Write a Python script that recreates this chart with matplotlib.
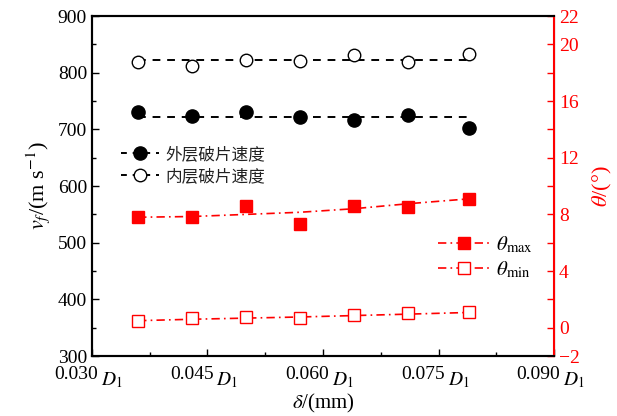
import numpy as np
import matplotlib
matplotlib.use("Agg")
import matplotlib.pyplot as plt
from matplotlib.lines import Line2D
from matplotlib.ticker import MultipleLocator, FixedLocator, NullFormatter
import matplotlib.transforms as mtransforms

plt.rcParams['font.family'] = ['Liberation Serif', 'Noto Sans CJK SC']
plt.rcParams['mathtext.fontset'] = 'stix'

# =============================================================
# DATA
# =============================================================

delta = [0.036, 0.043, 0.050, 0.057, 0.064, 0.071, 0.079]

v_outer = [730, 723, 730, 722, 716, 725, 702]
v_inner = [819, 812, 823, 821, 832, 819, 833]
v_outer_fit = [721, 721]
v_inner_fit = [822, 822]
fit_x = [0.036, 0.079]

theta_max = [7.8, 7.8, 8.6, 7.3, 8.6, 8.55, 9.1]
theta_min = [0.45, 0.7, 0.75, 0.72, 0.88, 1.02, 1.08]
theta_max_fit = [7.8, 7.85, 8.0, 8.15, 8.4, 8.75, 9.1]
theta_min_fit = [0.5, 0.6, 0.68, 0.76, 0.86, 0.96, 1.08]

xticks = [0.030, 0.045, 0.060, 0.075, 0.090]
xtick_labels = ["0.030", "0.045", "0.060", "0.075", "0.090"]
theta_labels = [22, 20, 16, 12, 8, 4, 0, -2]

red = "#ff0000"

# =============================================================
# PLOT
# =============================================================

fig = plt.figure(figsize=(6.17, 4.16), dpi=100)
ax = fig.add_axes([0.149, 0.144, 0.749, 0.8175])

ax.plot(fit_x, v_outer_fit, "--", color="black", lw=1.4, dashes=(4, 3.5))
ax.plot(fit_x, v_inner_fit, "--", color="black", lw=1.4, dashes=(4, 3.5))
ax.plot(delta, v_outer, "o", color="black", ms=9.5, ls="none")
ax.plot(delta, v_inner, "o", mfc="white", mec="black", mew=1.0, ms=9, ls="none")

ax.set_xlim(0.030, 0.090)
ax.set_ylim(300, 900)
ax.xaxis.set_major_locator(FixedLocator(xticks))
ax.xaxis.set_minor_locator(MultipleLocator(0.0075))
ax.yaxis.set_major_locator(MultipleLocator(100))
ax.yaxis.set_minor_locator(MultipleLocator(50))
ax.xaxis.set_major_formatter(NullFormatter())
ax.tick_params(which="both", direction="in", labelsize=14)
ax.tick_params(which="major", length=5, width=1)
ax.tick_params(which="minor", length=3, width=1)
ax.tick_params(axis="x", which="both", top=False)
ax.set_ylabel(r"$v_f$/(m s$^{-1}$)", fontsize=16, labelpad=4)

# x tick labels with D1 suffix
trans = mtransforms.blended_transform_factory(ax.transData, ax.transAxes)
for xv, lab in zip(xticks, xtick_labels):
    t1 = mtransforms.offset_copy(trans, fig=fig, x=4.5, y=-7, units="points")
    ax.text(xv, 0, lab, transform=t1, ha="right", va="top", fontsize=14)
    t2 = mtransforms.offset_copy(trans, fig=fig, x=6.5, y=-10, units="points")
    ax.text(xv, 0, r"$D_1$", transform=t2, ha="left", va="top", fontsize=14)

ax.text(0.5, -0.138, r"$\delta$/(mm)", transform=ax.transAxes,
        ha="center", va="center", fontsize=15)

# right axis
ax2 = ax.twinx()
ax2.plot(delta, theta_max_fit, color=red, lw=1.2, dashes=(5, 2.5, 1, 2.5))
ax2.plot(delta, theta_min_fit, color=red, lw=1.2, dashes=(5, 2.5, 1, 2.5))
ax2.plot(delta, theta_max, "s", color=red, ms=9, ls="none")
ax2.plot(delta, theta_min, "s", mfc="white", mec=red, mew=1.0, ms=9, ls="none")
ax2.set_ylim(-2, 22)
ax2.yaxis.set_major_locator(FixedLocator(theta_labels))
ax2.yaxis.set_minor_locator(MultipleLocator(2))
ax2.tick_params(which="both", direction="in", colors=red, labelsize=14)
ax2.tick_params(which="major", length=5, width=1)
ax2.tick_params(which="minor", length=5, width=1)
ax2.spines["right"].set_color(red)
ax2.spines["right"].set_linewidth(1.5)
ax2.set_ylabel(r"$\theta$/(°)", color=red, fontsize=16, rotation=90, labelpad=8)

for a in (ax, ax2):
    a.spines["left"].set_linewidth(1.5)
    a.spines["top"].set_linewidth(1.5)
    a.spines["bottom"].set_linewidth(1.5)

# legends
h1 = [Line2D([], [], color="black", ls="--", dashes=(3, 3), lw=1.4, marker="o", ms=9.5),
      Line2D([], [], color="black", ls="--", dashes=(3, 3), lw=1.4, marker="o", ms=9,
             mfc="white", mew=1.0)]
leg1 = ax.legend(h1, ["外层破片速度", "内层破片速度"], loc="upper left",
                 bbox_to_anchor=(0.03, 0.658), frameon=False, fontsize=12,
                 handlelength=2.3, handletextpad=0.4, labelspacing=0.35)
for t in leg1.get_texts():
    t.set_color("#222222")

h2 = [Line2D([], [], color=red, lw=1.2, dashes=(5, 2.5, 1, 2.5), marker="s", ms=9),
      Line2D([], [], color=red, lw=1.2, dashes=(5, 2.5, 1, 2.5), marker="s", ms=9,
             mfc="white", mew=1.0)]
leg2 = ax2.legend(h2, [r"$\theta_{\mathrm{max}}$", r"$\theta_{\mathrm{min}}$"],
                  loc="upper left", bbox_to_anchor=(0.708, 0.412), frameon=False,
                  fontsize=15, handlelength=2.5, handletextpad=0.3, labelspacing=0.2)

fig.savefig("out.png", dpi=100)
